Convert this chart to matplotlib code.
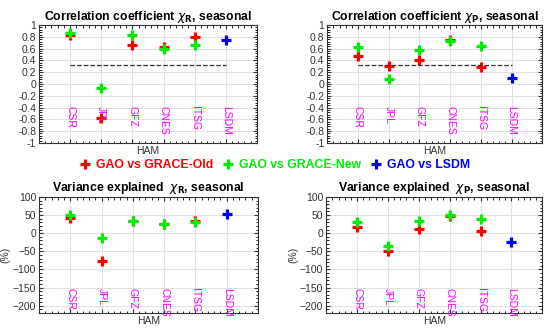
import numpy as np
import matplotlib
matplotlib.use('Agg')
import matplotlib.pyplot as plt
from matplotlib.lines import Line2D
from matplotlib.ticker import MultipleLocator, AutoMinorLocator

plt.rcParams['font.family'] = ['Liberation Sans', 'DejaVu Sans']

centers = ['CSR', 'JPL', 'GFZ', 'CNES', 'ITSG']
models = centers + ['LSDM']

# correlation chi_R
corr_r_old = [0.84, -0.57, 0.67, 0.63, 0.80]
corr_r_new = [0.87, -0.07, 0.84, 0.60, 0.67]
corr_r_lsdm = 0.74
# correlation chi_P
corr_p_old = [0.48, 0.30, 0.40, 0.75, 0.28]
corr_p_new = [0.62, 0.08, 0.58, 0.73, 0.65]
corr_p_lsdm = 0.11
# variance explained chi_R
var_r_old = [43, -78, 33, 26, 35]
var_r_new = [50, -14, 33, 25, 31]
var_r_lsdm = 54
# variance explained chi_P
var_p_old = [18, -48, 11, 48, 5]
var_p_new = [31, -36, 34, 50, 40]
var_p_lsdm = -24

signif = 0.33

RED, GREEN, BLUE, MAG = '#ff0000', '#00ee00', '#0000ff', '#ff00ff'
mk = dict(marker='+', linestyle='none', markersize=7, markeredgewidth=2.3)

fig = plt.figure(figsize=(5.5, 3.3), dpi=100)
pos = [[0.071, 0.567, 0.396, 0.357], [0.595, 0.567, 0.391, 0.357],
       [0.071, 0.052, 0.398, 0.351], [0.593, 0.052, 0.393, 0.351]]

panels = [
    (corr_r_old, corr_r_new, corr_r_lsdm, r'Correlation coefficient $\chi_{\mathbf{R}}$, seasonal', 'corr'),
    (corr_p_old, corr_p_new, corr_p_lsdm, r'Correlation coefficient $\chi_{\mathbf{P}}$, seasonal', 'corr'),
    (var_r_old, var_r_new, var_r_lsdm, r'Variance explained  $\chi_{\mathbf{R}}$, seasonal', 'var'),
    (var_p_old, var_p_new, var_p_lsdm, r'Variance explained  $\chi_{\mathbf{P}}$, seasonal', 'var'),
]

x = np.arange(1, len(centers) + 1)
for p, (old, new, lsdm, title, kind) in zip(pos, panels):
    ax = fig.add_axes(p)
    ax.grid(True, color='#e0e0e0', linewidth=0.8)
    ax.set_axisbelow(True)
    ax.plot(x, old, color=RED, **mk)
    ax.plot(x, new, color=GREEN, **mk)
    ax.plot([len(models)], [lsdm], color=BLUE, **mk)
    ax.set_xlim(0, 7)
    ax.set_xticks(np.arange(1, 7))
    ax.set_xticklabels([])
    ax.xaxis.set_minor_locator(MultipleLocator(0.2))
    if kind == 'corr':
        ax.plot([1, 6], [signif, signif], '--', color='#333333', linewidth=0.9)
        ax.set_ylim(-1, 1)
        ax.yaxis.set_major_locator(MultipleLocator(0.2))
        ax.set_yticklabels(['%g' % round(v, 1) for v in ax.get_yticks()])
        ytxt = -0.38
    else:
        ax.set_ylim(-220, 100)
        ax.yaxis.set_major_locator(MultipleLocator(50))
        ax.set_ylabel('(%)', fontsize=7.5, color='#333333')
        ax.yaxis.set_label_coords(-0.13, 0.5)
        ytxt = -150
    ax.yaxis.set_minor_locator(AutoMinorLocator(5))
    for i, name in enumerate(models):
        ax.text(i + 1, ytxt, name, rotation=-90, ha='center', va='top',
                color=MAG, fontsize=7.5)
    ax.tick_params(direction='in', labelsize=7.5, colors='#333333', length=3,
                   top=True, right=True, pad=2)
    ax.tick_params(which='minor', direction='in', length=1.8, top=True, right=True)
    for s in ax.spines.values():
        s.set_color('#333333')
    ax.set_xlabel('HAM', fontsize=7.5, color='#333333')
    ax.xaxis.set_label_coords(0.5, -0.025)
    ax.set_title(title, fontsize=8.8, fontweight='bold', pad=4)

handles = [Line2D([], [], color=c, **mk) for c in (RED, GREEN, BLUE)]
fig.legend(handles, ['GAO vs GRACE-Old', 'GAO vs GRACE-New', 'GAO vs LSDM'],
           loc='center', bbox_to_anchor=(0.5, 0.5), ncol=3, frameon=False,
           labelcolor='linecolor', prop={'weight': 'bold', 'size': 8.8},
           handlelength=0.8, handletextpad=0.5, columnspacing=0.8,
           borderpad=0, borderaxespad=0)

fig.savefig('out.png', dpi=100)
